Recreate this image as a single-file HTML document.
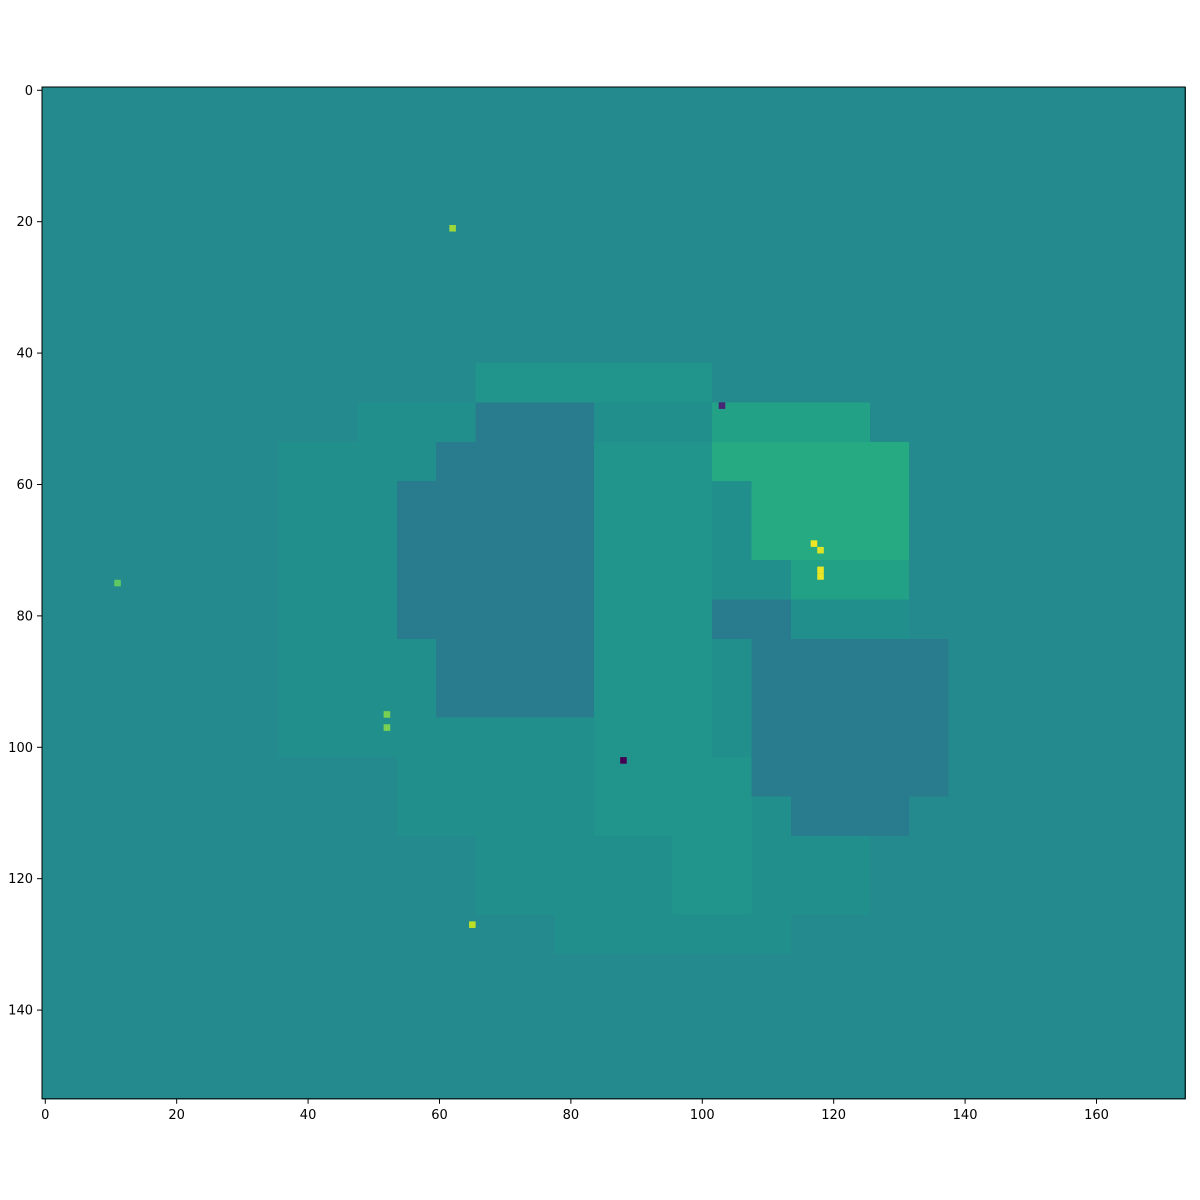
<!DOCTYPE html>
<html><head><meta charset="utf-8"><style>
html,body{margin:0;padding:0;background:#fff;width:1200px;height:1200px;overflow:hidden}
svg text{font-family:"DejaVu Sans","Liberation Sans",sans-serif;font-size:13px;fill:#000}
</style></head><body>
<svg id="chart" width="1200" height="1200" xmlns="http://www.w3.org/2000/svg"></svg>
<script>
// coarse block grid (each block = 6x6 cells), levels a..f
const blockRows = [
"bbbbbbbbbbbbbbbbbbbbbbbbbbbbb",
"bbbbbbbbbbbbbbbbbbbbbbbbbbbbb",
"bbbbbbbbbbbbbbbbbbbbbbbbbbbbb",
"bbbbbbbbbbbbbbbbbbbbbbbbbbbbb",
"bbbbbbbbbbbbbbbbbbbbbbbbbbbbb",
"bbbbbbbbbbbbbbbbbbbbbbbbbbbbb",
"bbbbbbbbbbbbbbbbbbbbbbbbbbbbb",
"bbbbbbbbbbbddddddbbbbbbbbbbbb",
"bbbbbbbbcccaaaccceeeebbbbbbbb",
"bbbbbbccccaaaadddfffffbbbbbbb",
"bbbbbbcccaaaaadddcffffbbbbbbb",
"bbbbbbcccaaaaadddcffffbbbbbbb",
"bbbbbbcccaaaaadddcceeebbbbbbb",
"bbbbbbcccaaaaadddaacccbbbbbbb",
"bbbbbbccccaaaadddcaaaaabbbbbb",
"bbbbbbccccaaaadddcaaaaabbbbbb",
"bbbbbbccccccccdddcaaaaabbbbbb",
"bbbbbbbbbcccccddddaaaaabbbbbb",
"bbbbbbbbbcccccddddcaaabbbbbbb",
"bbbbbbbbbbbcccccddcccbbbbbbbb",
"bbbbbbbbbbbcccccddcccbbbbbbbb",
"bbbbbbbbbbbbbccccccbbbbbbbbbb",
"bbbbbbbbbbbbbbbbbbbbbbbbbbbbb",
"bbbbbbbbbbbbbbbbbbbbbbbbbbbbb",
"bbbbbbbbbbbbbbbbbbbbbbbbbbbbb",
"bbbbbbbbbbbbbbbbbbbbbbbbbbbbb"
];
const levelKeys = ["a","b","c","d","e","f"];
const levelValues = [0.415,0.47,0.495,0.515,0.57,0.61];
const spikeX = [117,118,118,118,62,88,52,52,103,11,65];
const spikeY = [69,70,73,74,21,102,95,97,48,75,127];
const spikeV = [0.98,0.95,0.97,0.97,0.85,0.0,0.8,0.8,0.1,0.75,0.9];
const xTicks = [0,20,40,60,80,100,120,140,160];
const yTicks = [0,20,40,60,80,100,120,140];
const nCols = 174, nRows = 154, blockSize = 6;

const L=42, T=87, S=6.57;
const xs = v => L + (v + 0.5) * S;
const ys = v => T + (v + 0.5) * S;
const vir=[[0,[68,1,84]],[0.1,[72,36,117]],[0.2,[65,68,135]],[0.3,[53,95,141]],[0.4,[42,120,142]],[0.5,[33,145,140]],[0.6,[34,168,132]],[0.7,[68,191,112]],[0.8,[122,209,81]],[0.9,[189,223,38]],[1,[253,231,37]]];
function color(v){for(let i=1;i<vir.length;i++){if(v<=vir[i][0]){const a=vir[i-1],b=vir[i],t=(v-a[0])/(b[0]-a[0]);return 'rgb('+a[1].map((c,k)=>Math.round(c+(b[1][k]-c)*t)).join(',')+')';}}return 'rgb(253,231,37)';}
const svg=document.getElementById('chart');const NS='http://www.w3.org/2000/svg';
function mk(t,a){const e=document.createElementNS(NS,t);for(const k in a)e.setAttribute(k,a[k]);svg.appendChild(e);return e;}
blockRows.forEach((row,r)=>{for(let c=0;c<row.length;c++){
  const v=levelValues[levelKeys.indexOf(row[c])];
  const x0=c*blockSize, y0=r*blockSize;
  const w=Math.min(blockSize,nCols-x0), h=Math.min(blockSize,nRows-y0);
  if(w<=0||h<=0)continue;
  const e=mk('rect',{x:xs(x0-0.5),y:ys(y0-0.5),width:w*S+0.6,height:h*S+0.6,fill:color(v),'shape-rendering':'crispEdges'});
  
  
}});
spikeX.forEach((x,i)=>{
  const e=mk('rect',{x:xs(x-0.5),y:ys(spikeY[i]-0.5),width:S,height:S,fill:color(spikeV[i])});
  
  
});
const fr=mk('rect',{x:L,y:T,width:nCols*S,height:nRows*S,fill:'none',stroke:'#000','stroke-width':1});


const bottom=T+nRows*S;
xTicks.forEach(v=>{
  const x=xs(v);
  const t=mk('line',{x1:x,x2:x,y1:bottom,y2:bottom+5,stroke:'#000'});
  
  
  const l=mk('text',{x:x,y:bottom+20,'text-anchor':'middle'});l.textContent=v;
  
  
});
yTicks.forEach(v=>{
  const y=ys(v);
  const t=mk('line',{x1:L-5,x2:L,y1:y,y2:y,stroke:'#000'});
  
  
  const l=mk('text',{x:L-9,y:y+4.5,'text-anchor':'end'});l.textContent=v;
  
  
});
</script>
</body></html>
